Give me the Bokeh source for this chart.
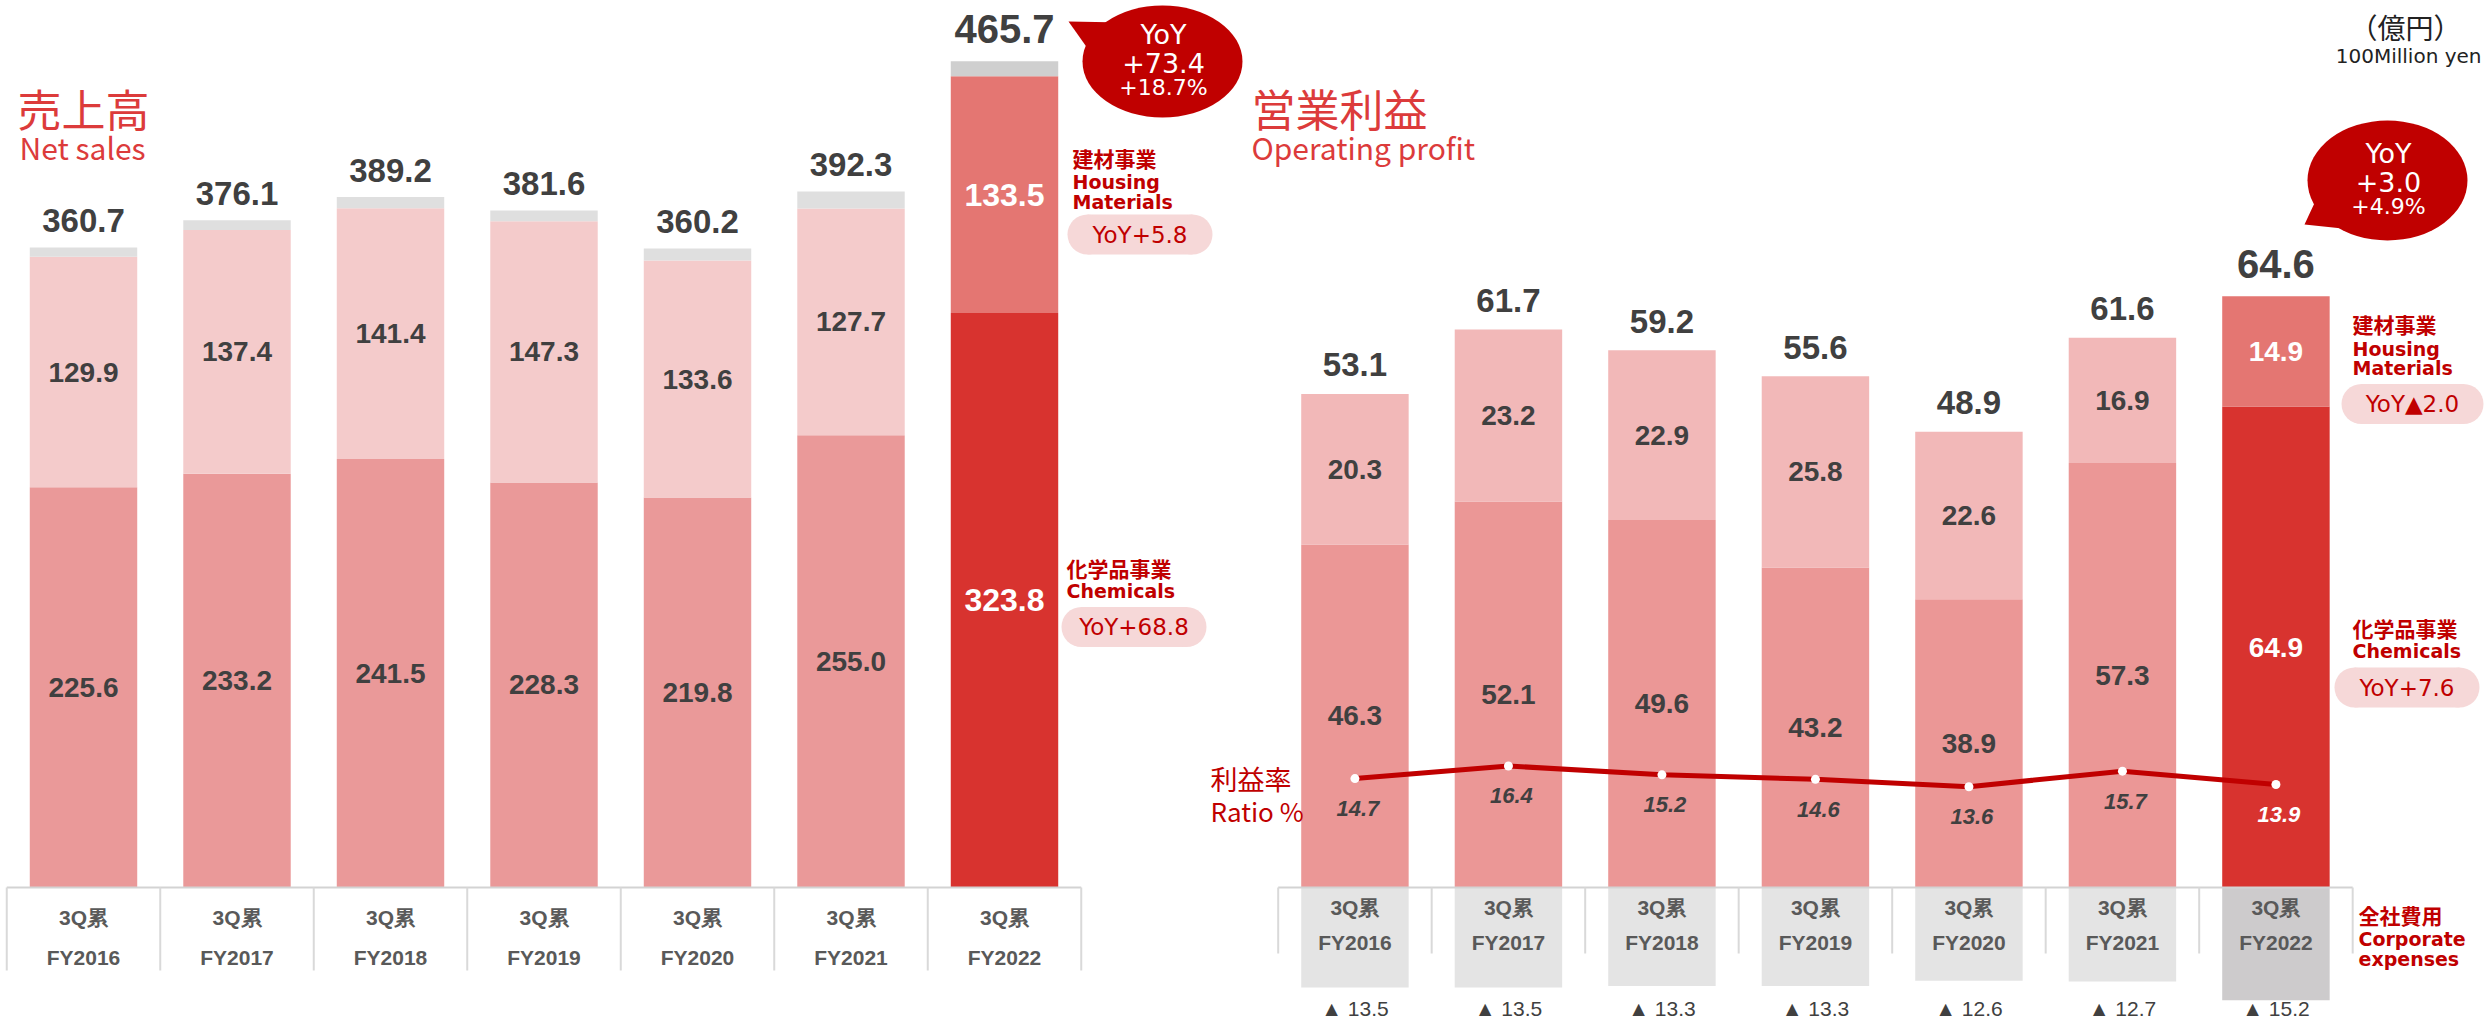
import numpy as np
from bokeh.plotting import figure
from bokeh.models import Range1d, ColumnDataSource
from bokeh.core.properties import value
from bokeh.embed import file_html
from bokeh.resources import INLINE

# ---------------- data ----------------
years = ["FY2016", "FY2017", "FY2018", "FY2019", "FY2020", "FY2021", "FY2022"]
period_label = "3Q累"

sales_chemicals = [225.6, 233.2, 241.5, 228.3, 219.8, 255.0, 323.8]
sales_housing = [129.9, 137.4, 141.4, 147.3, 133.6, 127.7, 133.5]
sales_total = [360.7, 376.1, 389.2, 381.6, 360.2, 392.3, 465.7]

op_chemicals = [46.3, 52.1, 49.6, 43.2, 38.9, 57.3, 64.9]
op_housing = [20.3, 23.2, 22.9, 25.8, 22.6, 16.9, 14.9]
op_total = [53.1, 61.7, 59.2, 55.6, 48.9, 61.6, 64.6]
corporate_expenses = [13.5, 13.5, 13.3, 13.3, 12.6, 12.7, 15.2]
op_ratio = [14.7, 16.4, 15.2, 14.6, 13.6, 15.7, 13.9]

sales_yoy = ["YoY", "+73.4", "+18.7%"]
op_yoy = ["YoY", "+3.0", "+4.9%"]
sales_housing_yoy = "YoY+5.8"
sales_chem_yoy = "YoY+68.8"
op_housing_yoy = "YoY▲2.0"
op_chem_yoy = "YoY+7.6"

# ---------------- layout constants ----------------
W, H = 2484, 1022
PAGE = 0
BASE_Y = 887          # page y of the baseline
UNIT = 153.5          # px per category
SALES_PX = 1.774      # px per 100M yen (sales)
OP_PX = 7.41          # px per 100M yen (operating profit)
FIRST_X = 83          # page x of first category centre
OP_SHIFT = 8.283      # categories between the two charts' first bars
BAR_W = 0.70

x0 = (PAGE - FIRST_X) / UNIT
above = BASE_Y - PAGE
below = H - above

def px_x(page_x):
    return x0 + (page_x - PAGE) / UNIT

def sy(page_y):
    return (BASE_Y - page_y) / SALES_PX

def oy(page_y):
    return (BASE_Y - page_y) / OP_PX

DARK = "#404040"
RED = "#c00000"
TITLE_RED = "#dc3b3b"
PILL = "#f6d8d8"

p = figure(width=W, height=H, output_backend="svg", toolbar_location=None,
           x_range=Range1d(x0, x0 + W / UNIT),
           y_range=Range1d(-below / SALES_PX, above / SALES_PX),
           x_axis_location=None, y_axis_location=None,
           min_border=0, outline_line_color=None)
p.extra_y_ranges = {"op": Range1d(-below / OP_PX, above / OP_PX)}
p.xgrid.visible = False
p.ygrid.visible = False
p.background_fill_color = "white"
p.border_fill_color = "white"

n = len(years)
hl = np.array([y == years[-1] for y in years])
sx = np.arange(n, dtype=float)
ox = sx + OP_SHIFT

def T(x, y, s, size, color, font="Liberation Sans", style="normal", align="center",
      yr="default", xo=0, yo=0, baseline="middle"):
    p.text(x=list(x), y=list(y), text=list(s), text_font=value(font),
           text_font_size=f"{size}px", text_font_style=style, text_color=color,
           text_align=align, text_baseline=baseline, x_offset=xo, y_offset=yo,
           y_range_name=yr)

# ---------------- sales bars ----------------
sc = np.array(sales_chemicals)
sh = np.array(sales_housing)
st = np.array(sales_total)
src_s = ColumnDataSource(dict(
    x=sx, chem=sc, ch=sc + sh, tot=st,
    c_chem=np.where(hl, "#d8332f", "#ea9999"),
    c_hous=np.where(hl, "#e47672", "#f4cbcb"),
    c_oth=np.where(hl, "#cfcfcf", "#dfdfdf"),
))
p.vbar(x="x", bottom=0, top="chem", width=BAR_W, fill_color="c_chem", line_color=None, source=src_s)
p.vbar(x="x", bottom="chem", top="ch", width=BAR_W, fill_color="c_hous", line_color=None, source=src_s)
p.vbar(x="x", bottom="ch", top="tot", width=BAR_W, fill_color="c_oth", line_color=None, source=src_s)

# category frame (sales)
p.segment(x0=[sx[0] - 0.5], y0=[0], x1=[sx[-1] + 0.5], y1=[0], line_color="#d3d3d3", line_width=2)
bx = np.concatenate([sx - 0.5, [sx[-1] + 0.5]])
p.segment(x0=bx, y0=[0] * len(bx), x1=bx, y1=[sy(970)] * len(bx), line_color="#d9d9d9", line_width=2)
T(sx, [sy(917)] * n, [period_label] * n, 21, "#595959", style="bold")
T(sx, [sy(957)] * n, years, 21, "#595959", style="bold")

# sales labels
m = ~hl
T(sx[m], st[m], [f"{v:.1f}" for v in st[m]], 33, DARK, style="bold", yo=-27)
T(sx[hl], st[hl], [f"{v:.1f}" for v in st[hl]], 40, DARK, style="bold", yo=-32)
T(sx[m], (sc + sh / 2)[m], [f"{v:.1f}" for v in sh[m]], 28, DARK, style="bold")
T(sx[m], (sc / 2)[m], [f"{v:.1f}" for v in sc[m]], 28, DARK, style="bold")
T(sx[hl], (sc + sh / 2)[hl], [f"{v:.1f}" for v in sh[hl]], 32, "white", style="bold")
T(sx[hl], (sc / 2)[hl], [f"{v:.1f}" for v in sc[hl]], 32, "white", style="bold")

# ---------------- operating profit bars ----------------
oc = np.array(op_chemicals)
oh = np.array(op_housing)
ce = np.array(corporate_expenses)
src_o = ColumnDataSource(dict(
    x=ox, chem=oc, ch=oc + oh, neg=-ce,
    c_chem=np.where(hl, "#d8332f", "#eb9796"),
    c_hous=np.where(hl, "#e47672", "#f2b8b8"),
    c_corp=np.where(hl, "#cdcbcc", "#e4e4e4"),
))
p.vbar(x="x", bottom="neg", top=0, width=BAR_W, fill_color="c_corp", line_color=None, source=src_o, y_range_name="op")
p.vbar(x="x", bottom=0, top="chem", width=BAR_W, fill_color="c_chem", line_color=None, source=src_o, y_range_name="op")
p.vbar(x="x", bottom="chem", top="ch", width=BAR_W, fill_color="c_hous", line_color=None, source=src_o, y_range_name="op")

# category frame (op)
p.segment(x0=[ox[0] - 0.5], y0=[0], x1=[ox[-1] + 0.5], y1=[0], line_color="#d3d3d3", line_width=2, y_range_name="op")
bo = np.concatenate([ox - 0.5, [ox[-1] + 0.5]])
p.segment(x0=bo, y0=[0] * len(bo), x1=bo, y1=[oy(953)] * len(bo), line_color="#d9d9d9", line_width=2, y_range_name="op")
T(ox, [oy(907)] * n, [period_label] * n, 21, "#595959", style="bold", yr="op")
T(ox, [oy(942)] * n, years, 21, "#595959", style="bold", yr="op")
T(ox, [oy(1008)] * n, [f"▲ {v:.1f}" for v in ce], 21, DARK, yr="op")

otop = oc + oh
ot = np.array(op_total)
T(ox[m], otop[m], [f"{v:.1f}" for v in ot[m]], 33, DARK, style="bold", yr="op", yo=-29)
T(ox[hl], otop[hl], [f"{v:.1f}" for v in ot[hl]], 40, DARK, style="bold", yr="op", yo=-32)
T(ox[m], (oc + oh / 2)[m], [f"{v:.1f}" for v in oh[m]], 28, DARK, style="bold", yr="op")
T(ox[m], (oc / 2)[m], [f"{v:.1f}" for v in oc[m]], 28, DARK, style="bold", yr="op")
T(ox[hl], (oc + oh / 2)[hl], [f"{v:.1f}" for v in oh[hl]], 28, "white", style="bold", yr="op")
T(ox[hl], (oc / 2)[hl], [f"{v:.1f}" for v in oc[hl]], 28, "white", style="bold", yr="op")

# ratio line
r = np.array(op_ratio)
p.line(ox, r, line_color=RED, line_width=5, y_range_name="op")
p.scatter(ox, r, size=9, marker="circle", fill_color="white", line_color=None, y_range_name="op")
T(ox[m], r[m], [f"{v:.1f}" for v in r[m]], 22, DARK, style="bold italic", yr="op", xo=3, yo=30)
T(ox[hl], r[hl], [f"{v:.1f}" for v in r[hl]], 22, "white", style="bold italic", yr="op", xo=3, yo=30)

# ---------------- titles & notes ----------------
CJK = "Noto Sans CJK JP"
T([px_x(17)], [sy(107)], ["売上高"], 44, TITLE_RED, font=CJK, align="left")
T([px_x(19)], [sy(146)], ["Net sales"], 30, TITLE_RED, font=CJK, align="left")
T([px_x(1251)], [sy(107)], ["営業利益"], 44, TITLE_RED, font=CJK, align="left")
T([px_x(1251)], [sy(146)], ["Operating profit"], 30, TITLE_RED, font=CJK, align="left")
T([px_x(2405)], [sy(26)], ["（億円）"], 28, "#222222", font=CJK)
T([px_x(2481)], [sy(55)], ["100Million yen"], 20, "#222222", font="DejaVu Sans", align="right")
T([px_x(1210)], [sy(778)], ["利益率"], 27, RED, font=CJK, align="left")
T([px_x(1210)], [sy(810)], ["Ratio %"], 26, RED, font=CJK, align="left")

# segment legends beside FY2022
def seg_label(page_x, ys, texts, yr_fn, yr):
    T([px_x(page_x)], [yr_fn(ys[0])], [texts[0]], 21, RED, font=CJK, style="bold", align="left", yr=yr)
    for yy, tt in zip(ys[1:], texts[1:]):
        T([px_x(page_x)], [yr_fn(yy)], [tt], 19, RED, font="DejaVu Sans", style="bold", align="left", yr=yr)

seg_label(1072, [157, 181, 201], ["建材事業", "Housing", "Materials"], sy, "default")
seg_label(1066, [567, 590], ["化学品事業", "Chemicals"], sy, "default")
seg_label(2352, [323, 348, 367], ["建材事業", "Housing", "Materials"], oy, "op")
seg_label(2352, [627, 650], ["化学品事業", "Chemicals"], oy, "op")
seg_label(2358, [914, 938, 958], ["全社費用", "Corporate", "expenses"], oy, "op")

def pill(cx, cy, w, h, text, yr_fn, yr):
    d = (w - h) / 2 / UNIT
    x = px_x(cx)
    y = yr_fn(cy)
    p.rect(x=[x], y=[y], width=w - h, height=h, width_units="screen", height_units="screen",
           fill_color=PILL, line_color=None, y_range_name=yr)
    p.scatter(x=[x - d, x + d], y=[y, y], size=h, marker="circle", fill_color=PILL,
              line_color=None, y_range_name=yr)
    T([x], [y], [text], 23, RED, font="DejaVu Sans", yr=yr)

pill(1139.5, 234, 145, 40, sales_housing_yoy, sy, "default")
pill(1133.5, 626.5, 145, 40, sales_chem_yoy, sy, "default")
pill(2412, 403.5, 142, 40, op_housing_yoy, oy, "op")
pill(2406.5, 687, 145, 40, op_chem_yoy, oy, "op")

# speech bubbles
def bubble(cx, cy, a, b, tail, lines, yr_fn, yr):
    p.patch([px_x(t[0]) for t in tail], [yr_fn(t[1]) for t in tail], fill_color=RED,
            line_color=None, y_range_name=yr)
    p.ellipse(x=[px_x(cx)], y=[yr_fn(cy)], width=2 * a, height=2 * b, width_units="screen",
              height_units="screen", fill_color=RED, line_color=None, y_range_name=yr)
    sizes = [27, 27, 22]
    offs = [-27, 1, 26]
    for s, sz, o in zip(lines, sizes, offs):
        T([px_x(cx + 1)], [yr_fn(cy + o)], [s], sz, "white", font="DejaVu Sans", yr=yr)

bubble(1162, 61, 80, 56, [(1068, 21), (1122, 22), (1090, 52)], sales_yoy, sy, "default")
bubble(2387, 180, 80, 60, [(2304, 224), (2318, 194), (2342, 228)], op_yoy, oy, "op")

open("out.html", "w").write(file_html(p, INLINE))
